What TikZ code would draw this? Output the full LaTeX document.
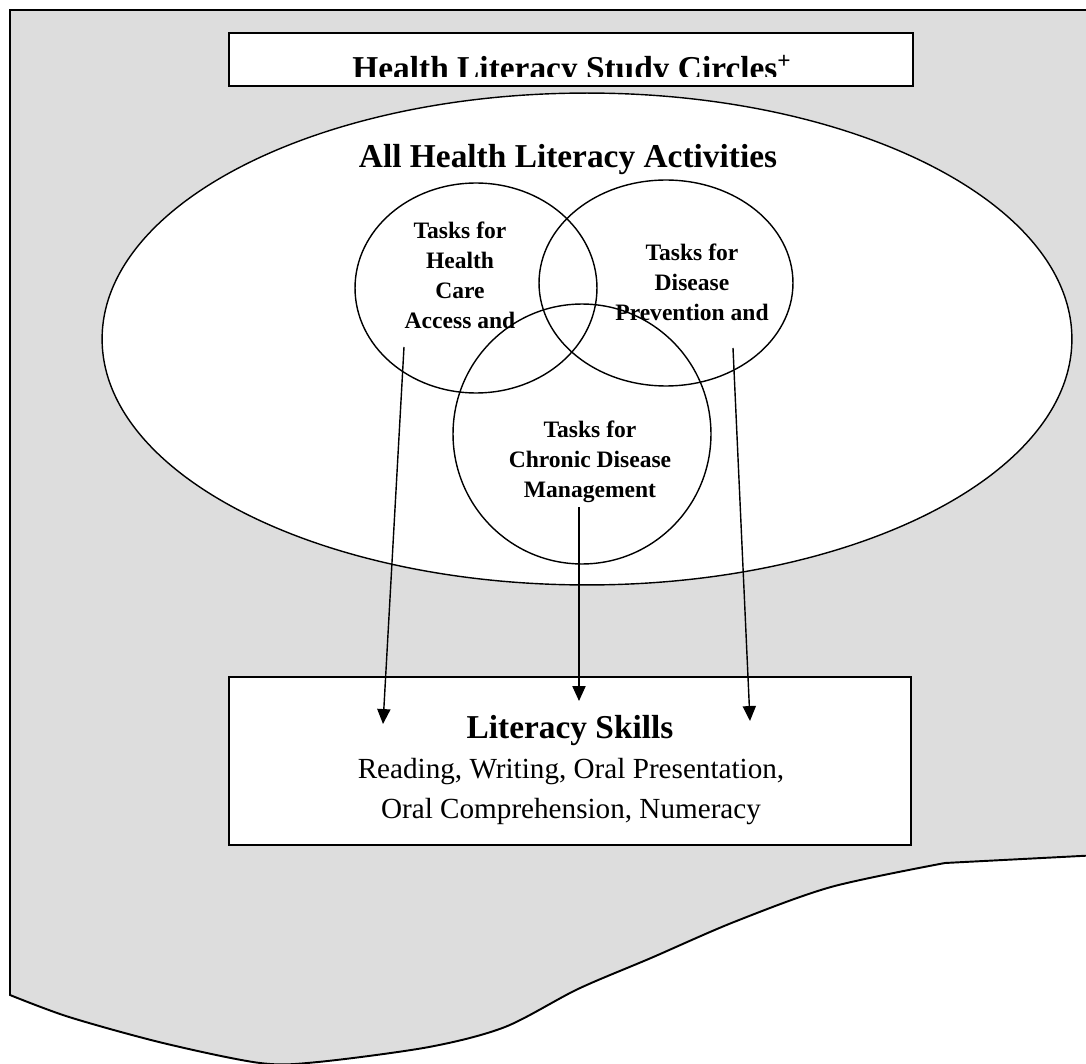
\documentclass[tikz,border=0pt]{standalone}
\usepackage{fontspec}
\setmainfont{Liberation Serif}
\usepackage{tikz}
\usetikzlibrary{arrows.meta, positioning, shapes.geometric}
\definecolor{panelgray}{RGB}{221,221,221}

\begin{document}
\begin{tikzpicture}[x=0.02cm, y=-0.02cm,
    box/.style={draw, line width=1.1pt, fill=white, inner sep=0pt},
    venn/.style={draw, ellipse, line width=0.8pt, inner sep=0pt},
    head/.style={font=\fontsize{19}{22}\selectfont\bfseries, inner sep=0pt},
    lbl/.style={font=\fontsize{13.4}{17}\selectfont\bfseries, align=center, inner sep=0pt},
    body/.style={font=\fontsize{16.6}{22.8}\selectfont, align=center, inner sep=0pt},
    arr/.style={-{Triangle[length=8.5pt, width=7.5pt]}, line width=0.8pt}]
  \useasboundingbox (0,0) rectangle (1086,1064);
  % grey sheet with torn lower edge
  \filldraw[fill=panelgray, line width=1.1pt] (1100,10) -- (10,10) -- (10,995)
    -- plot[smooth, tension=0.5] coordinates {(10,995) (69,1017) (163,1043) (260,1063)
       (318,1062) (429,1047) (505,1027) (578,989) (651,958) (734,922) (831,887) (945,863)}
    -- (1100,855) -- cycle;
  % title
  \node[box, minimum width=13.68cm, minimum height=1.06cm] (titlebox) at (571,59.5) {};
  \begin{scope}
    \clip (titlebox.north west) rectangle (titlebox.east |- 0,77);
    \node[head, anchor=base] (titletext) at (572,80) {Health Literacy Study Circles\textsuperscript{+}};
  \end{scope}
  % activities
  \node[venn, fill=white, minimum width=19.4cm, minimum height=9.84cm] (allacts) at (587,339) {};
  \node[head, anchor=base] (allhead) at (568,168) {All Health Literacy Activities};
  \node[venn, minimum width=4.84cm, minimum height=4.2cm] (access) at (476,288) {};
  \node[venn, minimum width=5.08cm, minimum height=4.12cm] (prevent) at (666,283) {};
  \node[venn, minimum width=5.16cm, minimum height=5.2cm] (chronic) at (582,434) {};
  \node[lbl, anchor=north] (accesstxt) at (460,222) {Tasks for\\Health\\Care\\Access and};
  \node[lbl, anchor=north] (preventtxt) at (692,244) {Tasks for\\Disease\\Prevention and};
  \node[lbl, anchor=north] (chronictxt) at (590,421) {Tasks for\\Chronic Disease\\Management};
  % skills
  \node[box, minimum width=13.64cm, minimum height=3.36cm] (skills) at (570,761) {};
  \node[head, anchor=base] (skillshead) at (570,738) {Literacy Skills};
  \node[body, anchor=north] (skillslist) at (571,758) {Reading, Writing, Oral Presentation,\\Oral Comprehension, Numeracy};
  % arrows
  \coordinate (srcA) at (404,347);
  \coordinate (dstA) at (383,724);
  \coordinate (srcC) at (579,507);
  \coordinate (dstC) at (579,701);
  \coordinate (srcB) at (733,348);
  \coordinate (dstB) at (750,721);
  \draw[arr] (srcA) -- (dstA);
  \draw[arr] (srcC) -- (dstC);
  \draw[arr] (srcB) -- (dstB);
\end{tikzpicture}
\end{document}
